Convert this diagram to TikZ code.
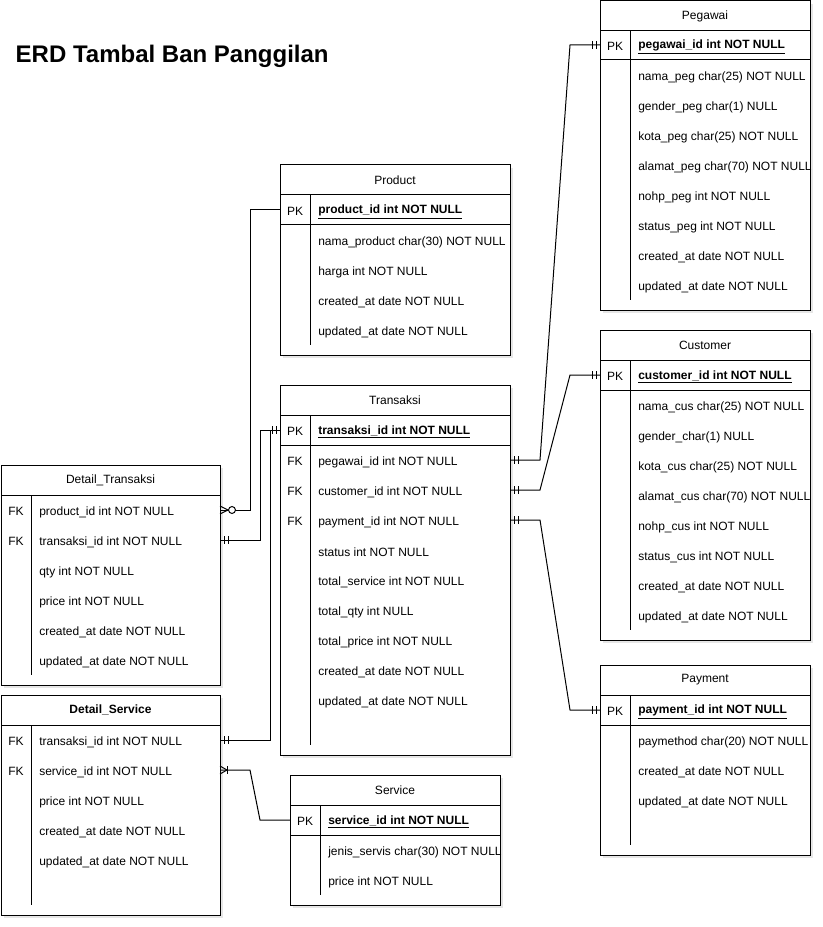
\documentclass[tikz,border=0pt]{standalone}
\usepackage{fontspec}
\setmainfont{Liberation Sans}
\usetikzlibrary{shadows}

\tikzset{
  tabel/.style={draw, line width=0.75pt, fill=white,
    drop shadow={shadow xshift=2pt, shadow yshift=-2pt, opacity=0.2}},
  garis/.style={line width=0.75pt},
  judul/.style={font=\fontsize{9}{11}\selectfont},
  kolom/.style={font=\fontsize{9}{11}\selectfont, inner sep=0pt, yshift=-0.75pt},
  isi/.style={font=\fontsize{9}{11}\selectfont, anchor=west, inner xsep=6pt, inner ysep=0pt, yshift=-1.5pt},
  relasi/.style={line width=0.75pt},
}

% table frame: (name, x, y, w, h, title)
\newcommand{\tabel}[6]{
    \def\tx{#2}\def\tw{#4}
    \draw[tabel] (#2,#3) rectangle ++(#4,#5);
    \draw[garis] (#2,#3+30) -- ++(#4,0);
    \draw[garis] (#2+30,#3+30) -- (#2+30,#3+#5-10);
    \node[judul] (#1) at ({#2+#4/2},#3+15) {#6};
}
\newcommand{\kunci}[3]{
    \node[kolom] (#1-k) at (\tx+15,#2) {PK};
    \node[isi] (#1) at (\tx+30,#2) {\underline{\textbf{#3}}};
    \draw[garis] (\tx,#2+15) -- ++(\tw,0);
    \coordinate (#1-l) at (\tx,#2);
    \coordinate (#1-r) at (\tx+\tw,#2);
}
\newcommand{\asing}[3]{
    \node[kolom] (#1-k) at (\tx+15,#2) {FK};
    \node[isi] (#1) at (\tx+30,#2) {#3};
    \coordinate (#1-l) at (\tx,#2);
    \coordinate (#1-r) at (\tx+\tw,#2);
}
\newcommand{\baris}[3]{
    \node[isi] (#1) at (\tx+30,#2) {#3};
}
% ends of a relation: (coordinate, direction)
\newcommand{\satu}[2]{
    \draw[relasi] (#1) ++({4*#2},-4) -- ++(0,8) (#1) ++({8*#2},-4) -- ++(0,8);
}
\newcommand{\banyak}[2]{
    \draw[relasi] (#1) ++(0,-4) -- ++({8*#2},4) -- ++({-8*#2},4);
    \draw[relasi, fill=white] (#1) ++({12*#2},0) circle[radius=2.6pt];
}
\newcommand{\satubanyak}[2]{
    \draw[relasi] (#1) ++(0,-4) -- ++({7*#2},4) -- ++({-7*#2},4);
    \draw[relasi] (#1) ++({7*#2},-4) -- ++(0,8);
}

\begin{document}
\begin{tikzpicture}[x=0.75pt, y=-0.75pt]
  \useasboundingbox (0,0) rectangle (822,927);

  \node[anchor=west, font=\bfseries\fontsize{18}{22}\selectfont] (erd) at (11,56) {ERD Tambal Ban Panggilan};

  \tabel{pegawai}{600}{1}{210}{309}{Pegawai}
  \kunci{pegpk}{45}{pegawai\_id int NOT NULL}
  \foreach \t [count=\i] in {nama\_peg char(25) NOT NULL, gender\_peg char(1) NULL,
      kota\_peg char(25) NOT NULL, alamat\_peg char(70) NOT NULL, nohp\_peg int NOT NULL,
      status\_peg int NOT NULL, created\_at date NOT NULL, updated\_at date NOT NULL}
    \baris{peg-\i}{45+30*\i}{\t};

  \tabel{customer}{600}{330}{210}{310}{Customer}
  \kunci{cuspk}{375}{customer\_id int NOT NULL}
  \foreach \t [count=\i] in {nama\_cus char(25) NOT NULL, gender\_char(1) NULL,
      kota\_cus char(25) NOT NULL, alamat\_cus char(70) NOT NULL, nohp\_cus int NOT NULL,
      status\_cus int NOT NULL, created\_at date NOT NULL, updated\_at date NOT NULL}
    \baris{cus-\i}{375+30*\i}{\t};

  \tabel{payment}{600}{665}{210}{190}{Payment}
  \kunci{paypk}{710}{payment\_id int NOT NULL}
  \foreach \t [count=\i] in {paymethod char(20) NOT NULL, created\_at date NOT NULL,
      updated\_at date NOT NULL}
    \baris{pay-\i}{710+30*\i}{\t};

  \tabel{product}{280}{165}{230}{190}{Product}
  \kunci{prodpk}{210}{product\_id int NOT NULL}
  \foreach \t [count=\i] in {nama\_product char(30) NOT NULL, harga int NOT NULL,
      created\_at date NOT NULL, updated\_at date NOT NULL}
    \baris{prod-\i}{210+30*\i}{\t};

  \tabel{transaksi}{280}{385}{230}{370}{Transaksi}
  \kunci{trspk}{430}{transaksi\_id int NOT NULL}
  \asing{trs1}{460}{pegawai\_id int NOT NULL}
  \asing{trs2}{490}{customer\_id int NOT NULL}
  \asing{trs3}{520}{payment\_id int NOT NULL}
  \foreach \t [count=\i] in {status int NOT NULL, total\_service int NOT NULL,
      total\_qty int NULL, total\_price int NOT NULL, created\_at date NOT NULL,
      updated\_at date NOT NULL}
    \baris{trs-\i}{520+30*\i}{\t};

  \tabel{service}{290}{775}{210}{130}{Service}
  \kunci{srvpk}{820}{service\_id int NOT NULL}
  \baris{srv-1}{850}{jenis\_servis char(30) NOT NULL}
  \baris{srv-2}{880}{price int NOT NULL}

  \tabel{dtransaksi}{1}{465}{219}{220}{Detail\_Transaksi}
  \asing{dt1}{510}{product\_id int NOT NULL}
  \asing{dt2}{540}{transaksi\_id int NOT NULL}
  \foreach \t [count=\i] in {qty int NOT NULL, price int NOT NULL,
      created\_at date NOT NULL, updated\_at date NOT NULL}
    \baris{dt-\i}{540+30*\i}{\t};

  \tabel{dservice}{1}{695}{219}{220}{\textbf{Detail\_Service}}
  \asing{ds1}{740}{transaksi\_id int NOT NULL}
  \asing{ds2}{770}{service\_id int NOT NULL}
  \foreach \t [count=\i] in {price int NOT NULL, created\_at date NOT NULL,
      updated\_at date NOT NULL}
    \baris{ds-\i}{770+30*\i}{\t};

  \draw[relasi] (prodpk-l) -- ++(-30,0) |- (dt1-r);
  \draw[relasi] (trspk-l) -- ++(-20,0) |- (dt2-r);
  \draw[relasi] (trspk-l) -- ++(-10,0) |- (ds1-r);
  \draw[relasi] (ds2-r) -- ++(30,0) -- ++(10,50) -- (srvpk-l);
  \draw[relasi] (trs1-r) -- ++(30,0) -- ([xshift=-22.5pt]pegpk-l) -- (pegpk-l);
  \draw[relasi] (trs2-r) -- ++(30,0) -- ([xshift=-22.5pt]cuspk-l) -- (cuspk-l);
  \draw[relasi] (trs3-r) -- ++(30,0) -- ([xshift=-22.5pt]paypk-l) -- (paypk-l);

  \satu{trspk-l}{-1}
  \satu{dt2-r}{1}
  \satu{ds1-r}{1}
  \banyak{dt1-r}{1}
  \satubanyak{ds2-r}{1}
  \satu{trs1-r}{1}
  \satu{trs2-r}{1}
  \satu{trs3-r}{1}
  \satu{pegpk-l}{-1}
  \satu{cuspk-l}{-1}
  \satu{paypk-l}{-1}

\end{tikzpicture}
\end{document}
